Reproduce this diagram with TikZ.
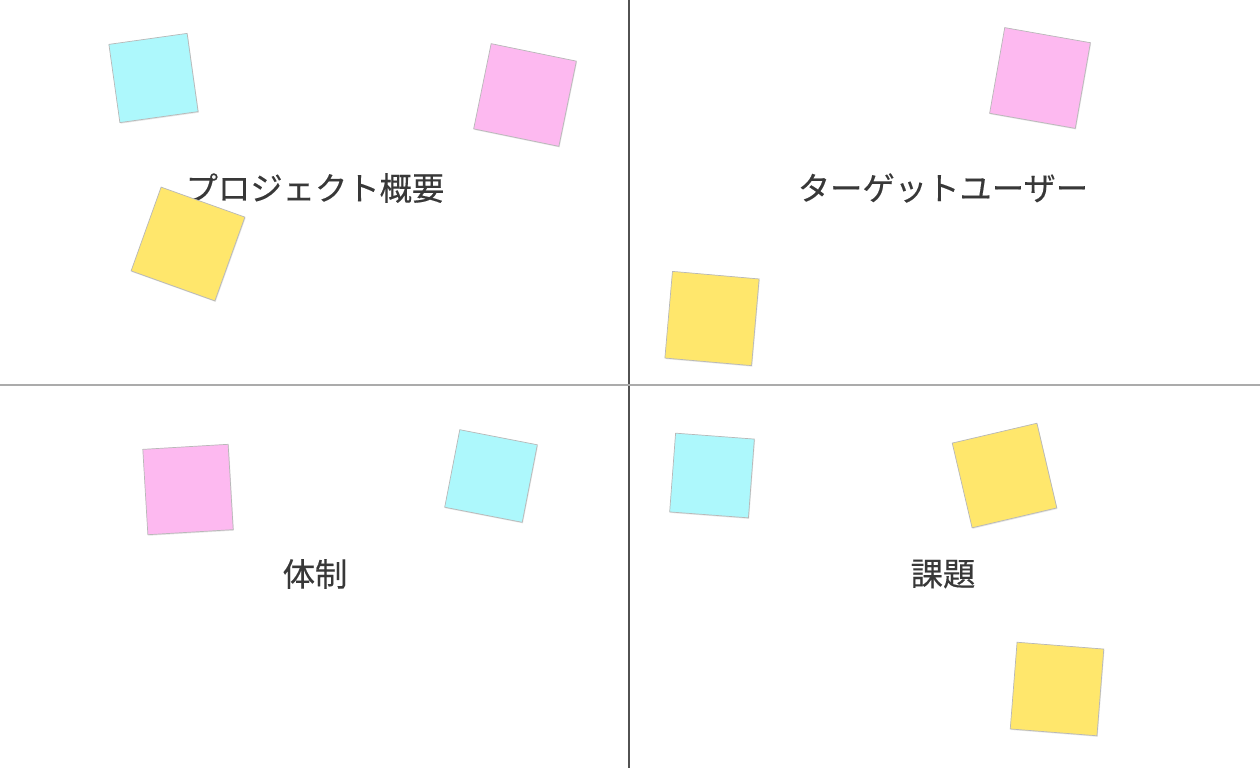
\documentclass[tikz,border=0pt]{standalone}
\usepackage{fontspec}
\newfontfamily\jpfont[FakeBold=0.35]{Noto Sans CJK JP}
\usepackage{tikz}
\usetikzlibrary{shadows}

\definecolor{notecyan}{HTML}{ADF8FC}
\definecolor{notepink}{HTML}{FDB9F0}
\definecolor{noteyellow}{HTML}{FFE76C}
\definecolor{labelgray}{HTML}{383838}

\begin{document}
\begin{tikzpicture}[x=0.02cm, y=-0.02cm,
		note/.style={rectangle, inner sep=0pt, minimum size=1.74cm, draw=black!28, line width=0.4pt,
			drop shadow={opacity=0.2, shadow xshift=0.4pt, shadow yshift=-0.6pt}},
		small/.style={minimum size=1.58cm},
		title/.style={font=\jpfont\fontsize{18.4pt}{22pt}\selectfont, text=labelgray}]
		\def\W{1260};
		\def\H{770};
		
		\useasboundingbox (0,0) rectangle (\W,\H);
		\fill[white] (0,0) rectangle (\W,\H);
		
		% quadrant lines
		\draw[line width=1pt, black!68] (629,0) -- (629,768);
		\draw[line width=1.1pt, black!33] (0,385) -- (\W,385);
		
		% quadrant titles
		\node[title] (overview) at (315,188) {プロジェクト概要};
		\node[title] (target) at (943,188) {ターゲットユーザー};
		\node[title] (team) at (315,574) {体制};
		\node[title] (issue) at (943,574) {課題};
		
		% sticky notes
		\begin{scope}
			\node[note, small, fill=notecyan, rotate=8] (ovcyan) at (153.5,78) {};
			\node[note, fill=notepink, rotate=-11.6] (ovpink) at (525,95) {};
			\node[note, minimum size=1.78cm, fill=noteyellow, rotate=-19.7] (ovyellow) at (188,244) {};
		\end{scope}
		
		\begin{scope}
			\node[note, fill=notepink, rotate=-10] (tgpink) at (1040,78) {};
			\node[note, fill=noteyellow, rotate=-5] (tgyellow) at (712,318.5) {};
		\end{scope}
		
		\begin{scope}
			\node[note, minimum size=1.71cm, fill=notepink, rotate=3.4] (tmpink) at (188,489.5) {};
			\node[note, small, fill=notecyan, rotate=-11] (tmcyan) at (491,476) {};
		\end{scope}
		
		\begin{scope}
			\node[note, small, fill=notecyan, rotate=-4.3] (iscyan) at (712,475.5) {};
			\node[note, fill=noteyellow, rotate=13.2] (isyellow) at (1004.5,475.5) {};
			\node[note, fill=noteyellow, rotate=-4.5] (isyellowb) at (1057,689) {};
		\end{scope}
	\end{tikzpicture}
\end{document}
